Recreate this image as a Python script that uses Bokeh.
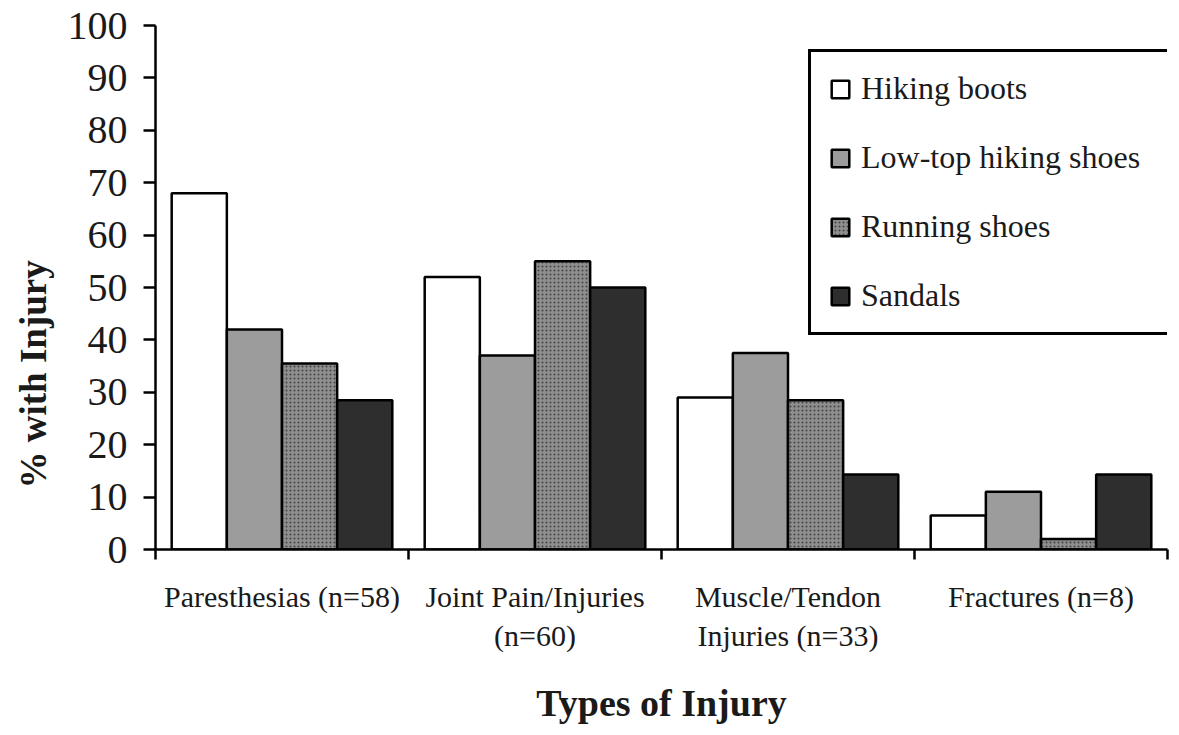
from bokeh.plotting import figure
from bokeh.models import Range1d, FixedTicker, Legend, LegendItem, Title, ColumnDataSource
from bokeh.embed import file_html
from bokeh.resources import INLINE

# ---- data ----
categories = ["Paresthesias (n=58)", "Joint Pain/Injuries\n(n=60)",
              "Muscle/Tendon\nInjuries (n=33)", "Fractures (n=8)"]
series = ["Hiking boots", "Low-top hiking shoes", "Running shoes", "Sandals"]
hiking_boots = [68, 52, 29, 6.5]
low_top_hiking_shoes = [42, 37, 37.5, 11]
running_shoes = [35.5, 55, 28.5, 2]
sandals = [28.5, 50, 14.3, 14.3]
y_ticks = list(range(0, 101, 10))

FONT = "Liberation Serif"
TXT = "#1a1a1a"

p = figure(width=1171, height=727, x_range=Range1d(0, len(categories)), y_range=Range1d(0, 100),
           output_backend="svg", toolbar_location=None,
           min_border_left=155, min_border_right=4, min_border_top=25, min_border_bottom=178)
p.outline_line_color = None
p.xgrid.visible = False
p.ygrid.visible = False

values = [hiking_boots, low_top_hiking_shoes, running_shoes, sandals]
styles = [
    dict(fill_color="white"),
    dict(fill_color="#9c9c9c"),
    dict(fill_color="#8e8e8e", hatch_pattern="dot", hatch_color="#444444", hatch_scale=4, hatch_weight=1),
    dict(fill_color="#2e2e2e"),
]
bw = 0.218
items = []
for j, (name, vals, st) in enumerate(zip(series, values, styles)):
    xs = [i + 0.5 + (j - 1.5) * bw for i in range(len(categories))]
    src = ColumnDataSource(dict(x=xs, top=vals))
    r = p.vbar(x="x", top="top", width=bw, bottom=0, source=src,
               line_color="black", line_width=2.5, **st)
    items.append(LegendItem(label=name, renderers=[r]))

legend = Legend(items=items, location=(653, 214))
legend.border_line_color = "black"
legend.border_line_alpha = 1
legend.border_line_width = 3
legend.background_fill_color = "white"
legend.background_fill_alpha = 1
legend.label_text_font = FONT
legend.label_text_font_size = "32px"
legend.label_text_color = TXT
legend.glyph_width = 22
legend.glyph_height = 22
legend.label_height = 30
legend.label_width = 330
legend.spacing = 32
legend.padding = 18
legend.margin = 0
legend.label_standoff = 10
p.add_layout(legend)

# x axis
xa = p.xaxis[0]
xa.ticker = FixedTicker(ticks=[i + 0.5 for i in range(len(categories))],
                        minor_ticks=list(range(len(categories) + 1)))
xa.major_label_overrides = {i + 0.5: c for i, c in enumerate(categories)}
xa.major_tick_out = 0
xa.major_tick_in = 0
xa.minor_tick_out = 10
xa.minor_tick_in = 0
xa.minor_tick_line_width = 2.5
xa.axis_line_width = 2.5
xa.major_label_standoff = 20
xa.major_label_text_font = FONT
xa.major_label_text_font_size = "30px"
xa.major_label_text_color = TXT
xa.axis_label = "Types of Injury"
xa.axis_label_text_font = FONT
xa.axis_label_text_font_style = "bold"
xa.axis_label_text_font_size = "38px"
xa.axis_label_text_color = TXT
xa.axis_label_standoff = 27

# y axis
ya = p.yaxis[0]
ya.ticker = FixedTicker(ticks=y_ticks, minor_ticks=[])
ya.major_tick_out = 12
ya.major_tick_in = 0
ya.major_tick_line_width = 2.5
ya.axis_line_width = 2.5
ya.major_label_standoff = 16
ya.major_label_text_font = FONT
ya.major_label_text_font_size = "40px"
ya.major_label_text_color = TXT

ytitle = Title(text="% with Injury", align="left", offset=61, standoff=21,
               text_font=FONT, text_font_style="bold", text_font_size="37px", text_color=TXT)
p.add_layout(ytitle, "left")

open("out.html", "w").write(file_html(p, INLINE))
